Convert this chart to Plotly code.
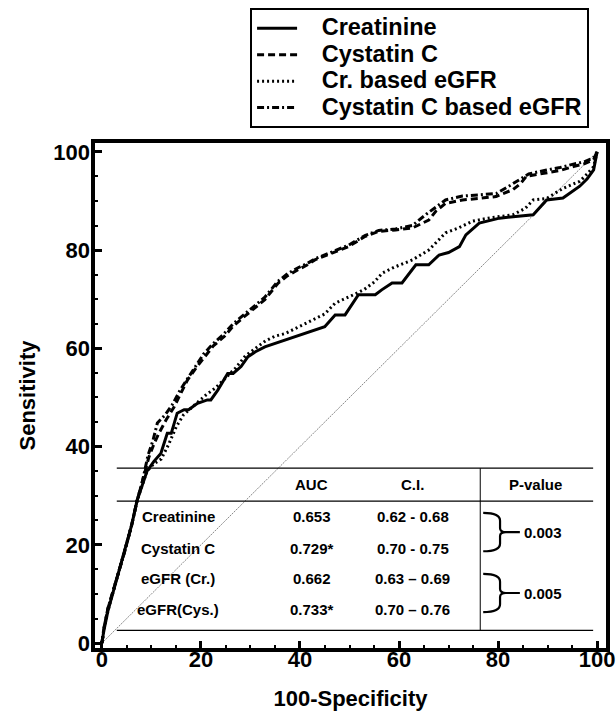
import plotly.graph_objects as go

# ---------------- data ----------------
cre_x = [0, 0.4, 1.2, 2.4, 3.5, 4.7, 6, 7.1, 8.2, 9.1, 10.5, 11.9, 13.2, 14, 15.2, 16.6, 17.5, 19.3, 21.3, 22,
         23.4, 25.4, 26.5, 28.1, 29.5, 31, 32.9, 36.9, 41, 45, 47.1, 49.1, 51.8, 55.2, 56.5, 58.6, 60.6, 63.4,
         66, 68.1, 70, 72.2, 73.5, 76.2, 80.3, 84, 87.1, 89.8, 93.1, 96.5, 98, 99.3, 100]
cre_y = [0, 2.6, 6.5, 10.8, 15, 19.3, 24, 29, 32.5, 35, 37, 38.6, 42.7, 42.7, 46.8, 47.5, 47.5, 48.8, 49.5, 49.5,
         51.5, 54.9, 54.9, 56.3, 58.3, 59.3, 60.3, 61.7, 63, 64.4, 66.8, 66.8, 70.9, 70.9, 71.9, 73.3, 73.3, 77,
         77, 79, 79.5, 80.7, 83.1, 85.5, 86.5, 86.8, 87.2, 90.2, 90.6, 93, 94.5, 96.3, 100]

cys_x = [0, 0.4, 1.2, 2.4, 3.5, 4.7, 6, 7.1, 8.2, 9.5, 10.5, 11.5, 13, 14.6, 16, 17.3, 19, 20.7, 22.5, 24.7,
         26.5, 28.8, 31, 32.9, 35.6, 37.5, 39.6, 41.5, 43, 46.4, 49.8, 53.2, 55.9, 59.3, 62.7, 66, 67.5, 69.4,
         72.8, 76, 79.6, 83, 84.5, 85.7, 89.8, 92.5, 95.2, 97.5, 99.3, 100]
cys_y = [0, 3, 7, 11, 15, 19, 24, 29, 33, 37.9, 40.5, 42.7, 45.5, 48.1, 51, 53.6, 56, 58.3, 60.5, 62.4,
         64.5, 66.5, 68.3, 69.9, 73.3, 74.8, 76, 77, 78, 79.4, 80.7, 82.8, 83.8, 84.1, 84.5, 86.1, 88, 89.5,
         90.2, 90.5, 90.9, 92.3, 93.5, 95, 95.7, 96.2, 97, 97.6, 98.4, 100]

egfr_cr_x = [0, 0.4, 1.2, 2.4, 3.5, 4.7, 6, 7.1, 8.2, 9.1, 10.5, 12, 13.5, 15, 16.5, 18, 19.5, 21, 23, 25,
             27, 29, 31, 33, 35, 37, 39, 41, 43, 45, 47.1, 49, 51, 53, 55, 56.6, 59, 62.7, 66, 69.4, 72, 74.9,
             78, 83, 85.5, 87.1, 89.8, 93, 96.5, 98, 99.3, 100]
egfr_cr_y = [0, 2.6, 6.5, 10.8, 15, 19.3, 24, 29, 32.5, 35, 36.5, 37.5, 40.5, 44, 46.5, 47.8, 49, 50.5, 52, 54,
             56, 58.5, 60, 61.5, 62.5, 63, 64, 65, 66, 67, 69.2, 70, 71, 72, 73.5, 75.3, 76.5, 78, 80, 83.5,
             84.5, 85.9, 86.5, 87.2, 88.5, 90.2, 90.5, 92.5, 94, 95.5, 97, 100]

egfr_cys_x = [0, 0.4, 1.2, 2.4, 3.5, 4.7, 6, 7.1, 8.2, 9.3, 10.3, 11.2, 12.8, 14.2, 15.8, 17.3, 19, 20.5, 22.5,
              24.5, 26.5, 28.6, 30.8, 32.9, 35.4, 37.5, 39.6, 41.5, 43, 46.4, 49.8, 53.2, 55.9, 59.3, 62.7,
              65.5, 67.5, 69.4, 72.8, 76, 79.6, 82.5, 84.5, 86.2, 89.8, 92.5, 95.2, 97.5, 99.3, 100]
egfr_cys_y = [0, 3, 7, 11, 15, 19, 24, 29, 33, 38.2, 41.2, 44.8, 46.5, 48.5, 51.5, 53.8, 56.5, 58.8, 61,
              62.8, 65, 66.8, 68.6, 70.4, 73.5, 75.2, 76.4, 77.3, 78.2, 79.6, 81, 83, 84, 84.3, 85, 87.3, 88.8,
              90.2, 91, 91.3, 91.5, 93.2, 94.5, 95.5, 96.3, 96.8, 97.5, 98, 98.8, 100]

ref_x = [0, 100]
ref_y = [0, 100]

series_names = ["Creatinine", "Cystatin C", "Cr. based eGFR", "Cystatin C based eGFR"]

x_ticks = [0, 20, 40, 60, 80, 100]
y_ticks = [0, 20, 40, 60, 80, 100]

table_header = ["AUC", "C.I.", "P-value"]
table_rows = ["Creatinine", "Cystatin C", "eGFR (Cr.)", "eGFR(Cys.)"]
table_auc = ["0.653", "0.729*", "0.662", "0.733*"]
table_ci = ["0.62 - 0.68", "0.70 - 0.75", "0.63 \u2013 0.69", "0.70 \u2013 0.76"]
table_p = ["0.003", "0.005"]

# ---------------- figure ----------------
FONT = "Arial, Liberation Sans, sans-serif"
fig = go.Figure()

styles = [
    dict(color="black", width=3, dash="solid"),
    dict(color="black", width=3, dash="7px,4px"),
    dict(color="black", width=3, dash="2px,3px"),
    dict(color="black", width=3, dash="7px,3px,2px,3px"),
]
data = [(cre_x, cre_y), (cys_x, cys_y), (egfr_cr_x, egfr_cr_y), (egfr_cys_x, egfr_cys_y)]

fig.add_trace(go.Scatter(x=ref_x, y=ref_y, mode="lines", showlegend=False,
                         line=dict(color="#888888", width=1, dash="2px,1px"), hoverinfo="skip"))
for (xs, ys), name, st in zip(data, series_names, styles):
    label = '<span style="font-size:23.5px">&nbsp;&nbsp;&nbsp;' + name + '</span>'
    fig.add_trace(go.Scatter(x=xs, y=ys, mode="lines", name=label, line=st))

# plot frame
fig.add_shape(type="rect", xref="paper", yref="paper", x0=0, x1=1, y0=0, y1=1,
              line=dict(color="black", width=4), layer="above")

# table lines
line_style = dict(color="black", width=1.2)
t_left, t_right = 3.0, 99.2
y_top, y_head, y_bot = 35.6, 28.9, 2.6
x_vert = 76.4
fig.add_shape(type="line", x0=t_left, x1=t_right, y0=y_top, y1=y_top, line=line_style, layer="above")
fig.add_shape(type="line", x0=t_left, x1=t_right, y0=y_head, y1=y_head, line=line_style, layer="above")
fig.add_shape(type="line", x0=t_left, x1=t_right, y0=y_bot, y1=y_bot, line=line_style, layer="above")
fig.add_shape(type="line", x0=x_vert, x1=x_vert, y0=y_bot, y1=y_top, line=dict(color="black", width=1), layer="above")

tfont = dict(family=FONT, size=15, color="black", weight="bold")
col_x = [15.4, 42.4, 62.8, 87.5]
head_y = 32.2
row_y = [25.7, 19.3, 13.2, 6.9]
for cx, h in zip(col_x[1:], table_header):
    fig.add_annotation(x=cx, y=head_y, text=h, showarrow=False, font=tfont, xanchor="center", yanchor="middle")
for i, ry in enumerate(row_y):
    fig.add_annotation(x=col_x[0], y=ry, text=table_rows[i], showarrow=False, font=tfont)
    fig.add_annotation(x=col_x[1], y=ry, text=table_auc[i], showarrow=False, font=tfont)
    fig.add_annotation(x=col_x[2], y=ry, text=table_ci[i], showarrow=False, font=tfont)

# braces + p-values
def brace(yc, h):
    x0, x1, xt, xe = 77.0, 80.4, 81.6, 84.4
    return (f"M {x0},{yc+h} Q {x1},{yc+h} {x1},{yc+h-1.6} L {x1},{yc+0.8} Q {x1},{yc} {xt},{yc} L {xe},{yc} "
            f"M {xt},{yc} Q {x1},{yc} {x1},{yc-0.8} L {x1},{yc-h+1.6} Q {x1},{yc-h} {x0},{yc-h}")

for yc, p in zip([22.6, 10.2], table_p):
    fig.add_shape(type="path", path=brace(yc, 3.9), line=dict(color="black", width=2.2), layer="above")
    fig.add_annotation(x=84.8, y=yc, text=p, showarrow=False, font=tfont, xanchor="left")

axis_common = dict(
    showline=False,
    ticks="inside", ticklen=9, tickwidth=3, tickcolor="black",
    minor=dict(ticks="inside", ticklen=5, tickwidth=2, tickcolor="black", dtick=5),
    showgrid=False, zeroline=False,
    tickfont=dict(family=FONT, size=22, color="black", weight="bold"),
)
fig.update_xaxes(range=[-1.8, 102.2], tickvals=x_ticks, ticktext=[str(v) for v in x_ticks],
                 ticklabelstandoff=-6,
                 title=dict(text="100-Specificity", font=dict(family=FONT, size=22, color="black", weight="bold"), standoff=19),
                 **axis_common)
fig.update_yaxes(range=[-1.4, 102.2], tickvals=y_ticks, ticktext=[str(v) for v in y_ticks],
                 ticklabelstandoff=2,
                 title=dict(text="Sensitivity", font=dict(family=FONT, size=22, color="black", weight="bold"), standoff=11),
                 **axis_common)

fig.update_layout(
    width=616, height=716,
    margin=dict(l=93, r=8, t=141, b=66, autoexpand=False),
    plot_bgcolor="white", paper_bgcolor="white",
    showlegend=True,
    legend=dict(x=0.305, y=1.261, xanchor="left", yanchor="top",
                bordercolor="black", borderwidth=2, bgcolor="white",
                font=dict(family=FONT, size=18, color="black", weight="bold"),
                tracegroupgap=0, itemwidth=40),
)

fig.write_html("out.html", config={"displayModeBar": False},
               post_script="document.body.style.margin='0px';document.body.style.overflow='hidden';")
